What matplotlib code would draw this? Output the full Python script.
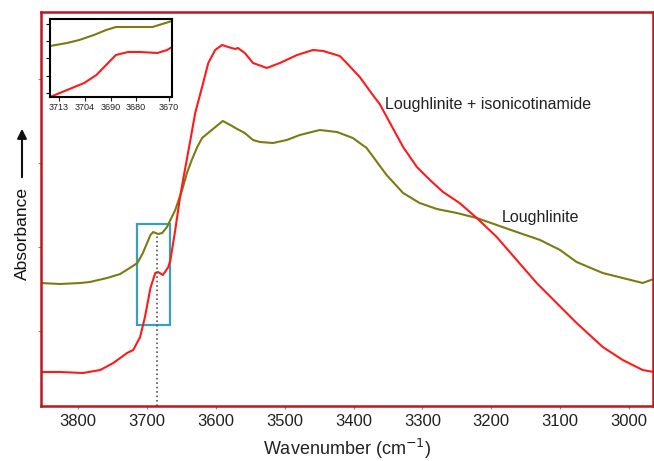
import numpy as np
import matplotlib
matplotlib.use('Agg')
import matplotlib.pyplot as plt
from matplotlib.patches import Rectangle

plt.rcParams['font.family'] = ['Liberation Sans', 'DejaVu Sans']

# Loughlinite (olive)
wn_loug = [3855, 3826, 3797, 3783, 3758, 3739, 3725, 3714, 3706, 3695, 3691, 3684,
           3678, 3671, 3659, 3649, 3642, 3635, 3627, 3620, 3606, 3590, 3579, 3569,
           3558, 3546, 3536, 3517,
           3497, 3478, 3449, 3424, 3401, 3381, 3352, 3328, 3304, 3279, 3250, 3221,
           3192, 3163, 3129, 3100, 3076, 3038, 3009, 2980, 2964]
ab_loug = [123, 122, 123, 124, 128, 132, 138, 143, 153, 171, 174, 172,
           173, 179, 196, 216, 233, 246, 259, 268, 276, 285, 281, 277,
           273, 266, 264, 263,
           266, 271, 276, 274, 268, 258, 231, 213, 203, 197, 193, 188,
           181, 174, 166, 156, 144, 133, 128, 123, 127]

# Loughlinite + isonicotinamide (red)
wn_iso = [3855, 3826, 3793, 3768, 3749, 3729, 3720, 3710, 3703, 3695, 3688, 3684,
          3677, 3669, 3666, 3659, 3652, 3645, 3637, 3630, 3620, 3611, 3601, 3591,
          3582, 3572, 3568, 3558, 3546, 3526, 3507, 3482, 3459, 3444, 3420, 3410,
          3391, 3372, 3362, 3347, 3328, 3308, 3289, 3270, 3246, 3221, 3192, 3163,
          3134, 3105, 3076, 3038, 3009, 2980, 2964]
ab_iso = [34, 34, 33, 36, 43, 53, 56, 69, 89, 118, 133, 134,
          131, 139, 146, 176, 209, 236, 266, 293, 319, 343, 356, 361,
          359, 357, 358, 353, 343, 338, 343, 351, 356, 355, 350, 343,
          329, 311, 302, 283, 259, 239, 226, 214, 203, 188, 169, 146,
          123, 103, 83, 59, 46, 36, 34]

# inset (zoomed OH region)
wn_in_loug = [3716, 3709, 3704, 3698, 3693, 3689, 3684, 3679, 3674, 3670, 3666]
ab_in_loug = [51, 54, 57, 62, 67, 70, 70, 70, 70, 73, 76]
wn_in_iso = [3716, 3709, 3702, 3697, 3693, 3689, 3684, 3679, 3672, 3668, 3666]
ab_in_iso = [0, 7, 14, 22, 32, 42, 45, 45, 44, 47, 50]

xticks = [3800, 3700, 3600, 3500, 3400, 3300, 3200, 3100, 3000]
inset_tick_pos = [3712.3, 3701.7, 3691, 3680.7, 3667.2]
inset_tick_lab = ['3713', '3704', '3690', '3680', '3670']

red = '#ff1a1a'
olive = '#7b7b12'
frame = '#c0161e'

fig = plt.figure(figsize=(6.54, 4.61), dpi=100)
ax = fig.add_axes([41/654, 1-406/461, 612/654, 394/461])

ax.plot(wn_loug, ab_loug, color=olive, lw=1.5)
ax.plot(wn_iso, ab_iso, color=red, lw=1.5)

ax.add_patch(Rectangle((3714, 81), -48, 101, fill=False, ec='#3a9fbf', lw=1.6))
ax.plot([3685, 3685], [0, 170], color='#555555', ls=':', lw=1.2)

ax.text(3354, 302, 'Loughlinite + isonicotinamide', fontsize=11.5, color='#222222',
        va='center')
ax.text(3185, 189, 'Loughlinite', fontsize=11.5, color='#222222', va='center')

ax.set_xlim(3854, 2965)
ax.set_ylim(0, 394)
ax.set_xticks(xticks)
ax.set_yticks([75, 159, 243, 327])
ax.set_yticklabels([])
ax.tick_params(axis='x', labelsize=12, length=2, color='#888888', colors='#222222')
ax.tick_params(axis='y', length=2, color='#888888')
for s in ax.spines.values():
    s.set_color(frame)
    s.set_linewidth(1.8)
ax.set_xlabel('Wavenumber (cm$^{-1}$)', fontsize=13, color='#222222', labelpad=6)

fig.text(22/654, 1-234/461, 'Absorbance', rotation=90, fontsize=12.5,
         ha='center', va='center', color='#111111')
fig.patches.append(matplotlib.patches.FancyArrowPatch(
    (22/654, 1-180/461), (22/654, 1-126/461), transform=fig.transFigure,
    arrowstyle='-|>', mutation_scale=14, lw=1.5, color='#111111'))

ins = fig.add_axes([50/654, 1-97/461, 122/654, 78/461])
ins.plot(wn_in_loug, ab_in_loug, color=olive, lw=1.5)
ins.plot(wn_in_iso, ab_in_iso, color=red, lw=1.5)
ins.set_xlim(3716, 3666)
ins.set_ylim(0, 78)
ins.set_xticks(inset_tick_pos)
ins.set_xticklabels(inset_tick_lab)
ins.set_yticks([73, 56, 39, 21, 4])
ins.set_yticklabels([])
ins.tick_params(axis='x', labelsize=6.5, length=3, pad=1.5, colors='#222222')
ins.tick_params(axis='y', length=3)
for s in ins.spines.values():
    s.set_color('black')
    s.set_linewidth(1.5)

fig.savefig('out.png', dpi=100)
